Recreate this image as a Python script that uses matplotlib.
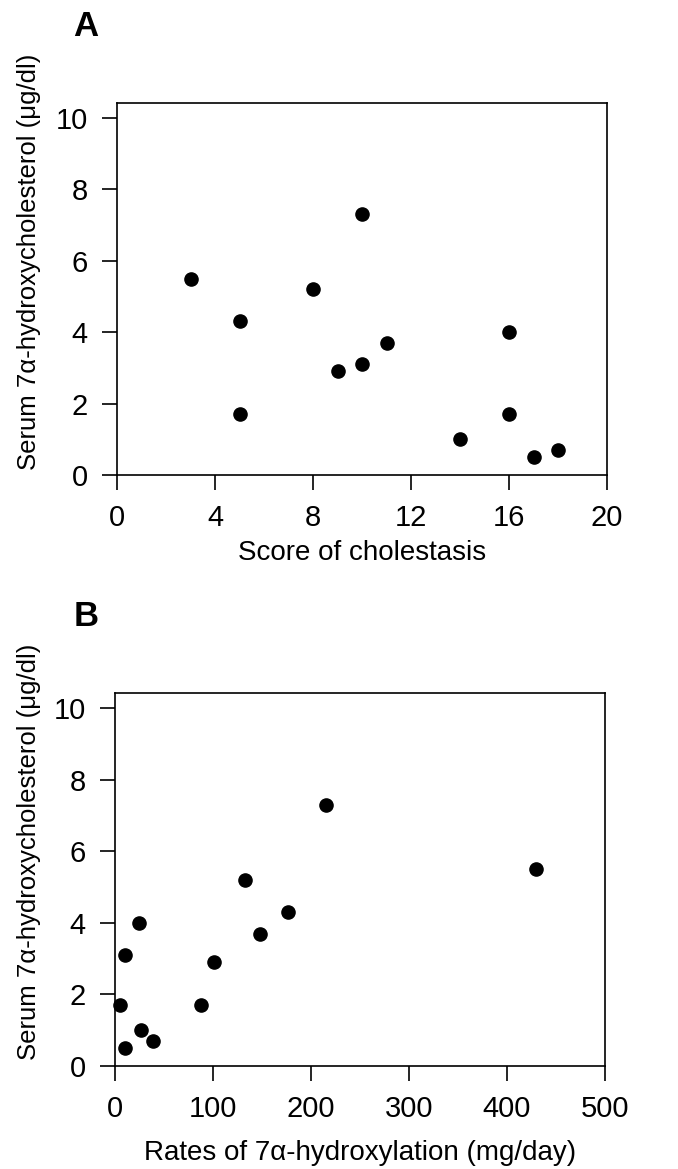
import matplotlib
matplotlib.use('Agg')
import matplotlib.pyplot as plt

plt.rcParams['font.family'] = ['Liberation Sans', 'DejaVu Sans']

# Panel A: score of cholestasis vs serum 7a-hydroxycholesterol
score = [3, 5, 5, 8, 9, 10, 10, 11, 14, 16, 16, 17, 18]
serum_a = [5.5, 4.3, 1.7, 5.2, 2.9, 3.1, 7.3, 3.7, 1.0, 4.0, 1.7, 0.5, 0.7]

# Panel B: rates of 7a-hydroxylation vs serum 7a-hydroxycholesterol
rates = [5, 10, 10, 24, 27, 39, 88, 101, 133, 148, 177, 215, 430]
serum_b = [1.7, 0.5, 3.1, 4.0, 1.0, 0.7, 1.7, 2.9, 5.2, 3.7, 4.3, 7.3, 5.5]

ylabel = 'Serum 7\u03b1-hydroxycholesterol (\u03bcg/dl)'

W, H = 678, 1169
fig = plt.figure(figsize=(W / 100, H / 100), dpi=100)
ax1 = fig.add_axes([117 / W, 1 - 475 / H, 490 / W, 372 / H])
ax2 = fig.add_axes([115 / W, 1 - 1066 / H, 490 / W, 373 / H])

def style(ax):
    ax.set_ylim(0, 10.42)
    ax.set_yticks([0, 2, 4, 6, 8, 10])
    ax.tick_params(direction='out', length=11, width=1.2, labelsize=21, pad=10)
    for s in ax.spines.values():
        s.set_linewidth(1.2)

ax1.scatter(score, serum_a, s=90, color='black', zorder=3, clip_on=False)
ax1.set_xlim(0, 20)
ax1.set_xticks([0, 4, 8, 12, 16, 20])
ax1.set_xlabel('Score of cholestasis', fontsize=20, labelpad=6)
style(ax1)

ax2.scatter(rates, serum_b, s=90, color='black', zorder=3, clip_on=False)
ax2.set_xlim(0, 500)
ax2.set_xticks([0, 100, 200, 300, 400, 500])
ax2.set_xlabel('Rates of 7\u03b1-hydroxylation (mg/day)', fontsize=20, labelpad=12)
style(ax2)

fig.text(29 / W, 1 - 262 / H, ylabel, fontsize=18.5, rotation=90, ha='center', va='center')
fig.text(29 / W, 1 - 852 / H, ylabel, fontsize=18.5, rotation=90, ha='center', va='center')

fig.text(86 / W, 1 - 27 / H, 'A', fontsize=25, fontweight='bold', va='center', ha='center')
fig.text(86 / W, 1 - 617 / H, 'B', fontsize=25, fontweight='bold', va='center', ha='center')

fig.savefig('out.png', dpi=100)
